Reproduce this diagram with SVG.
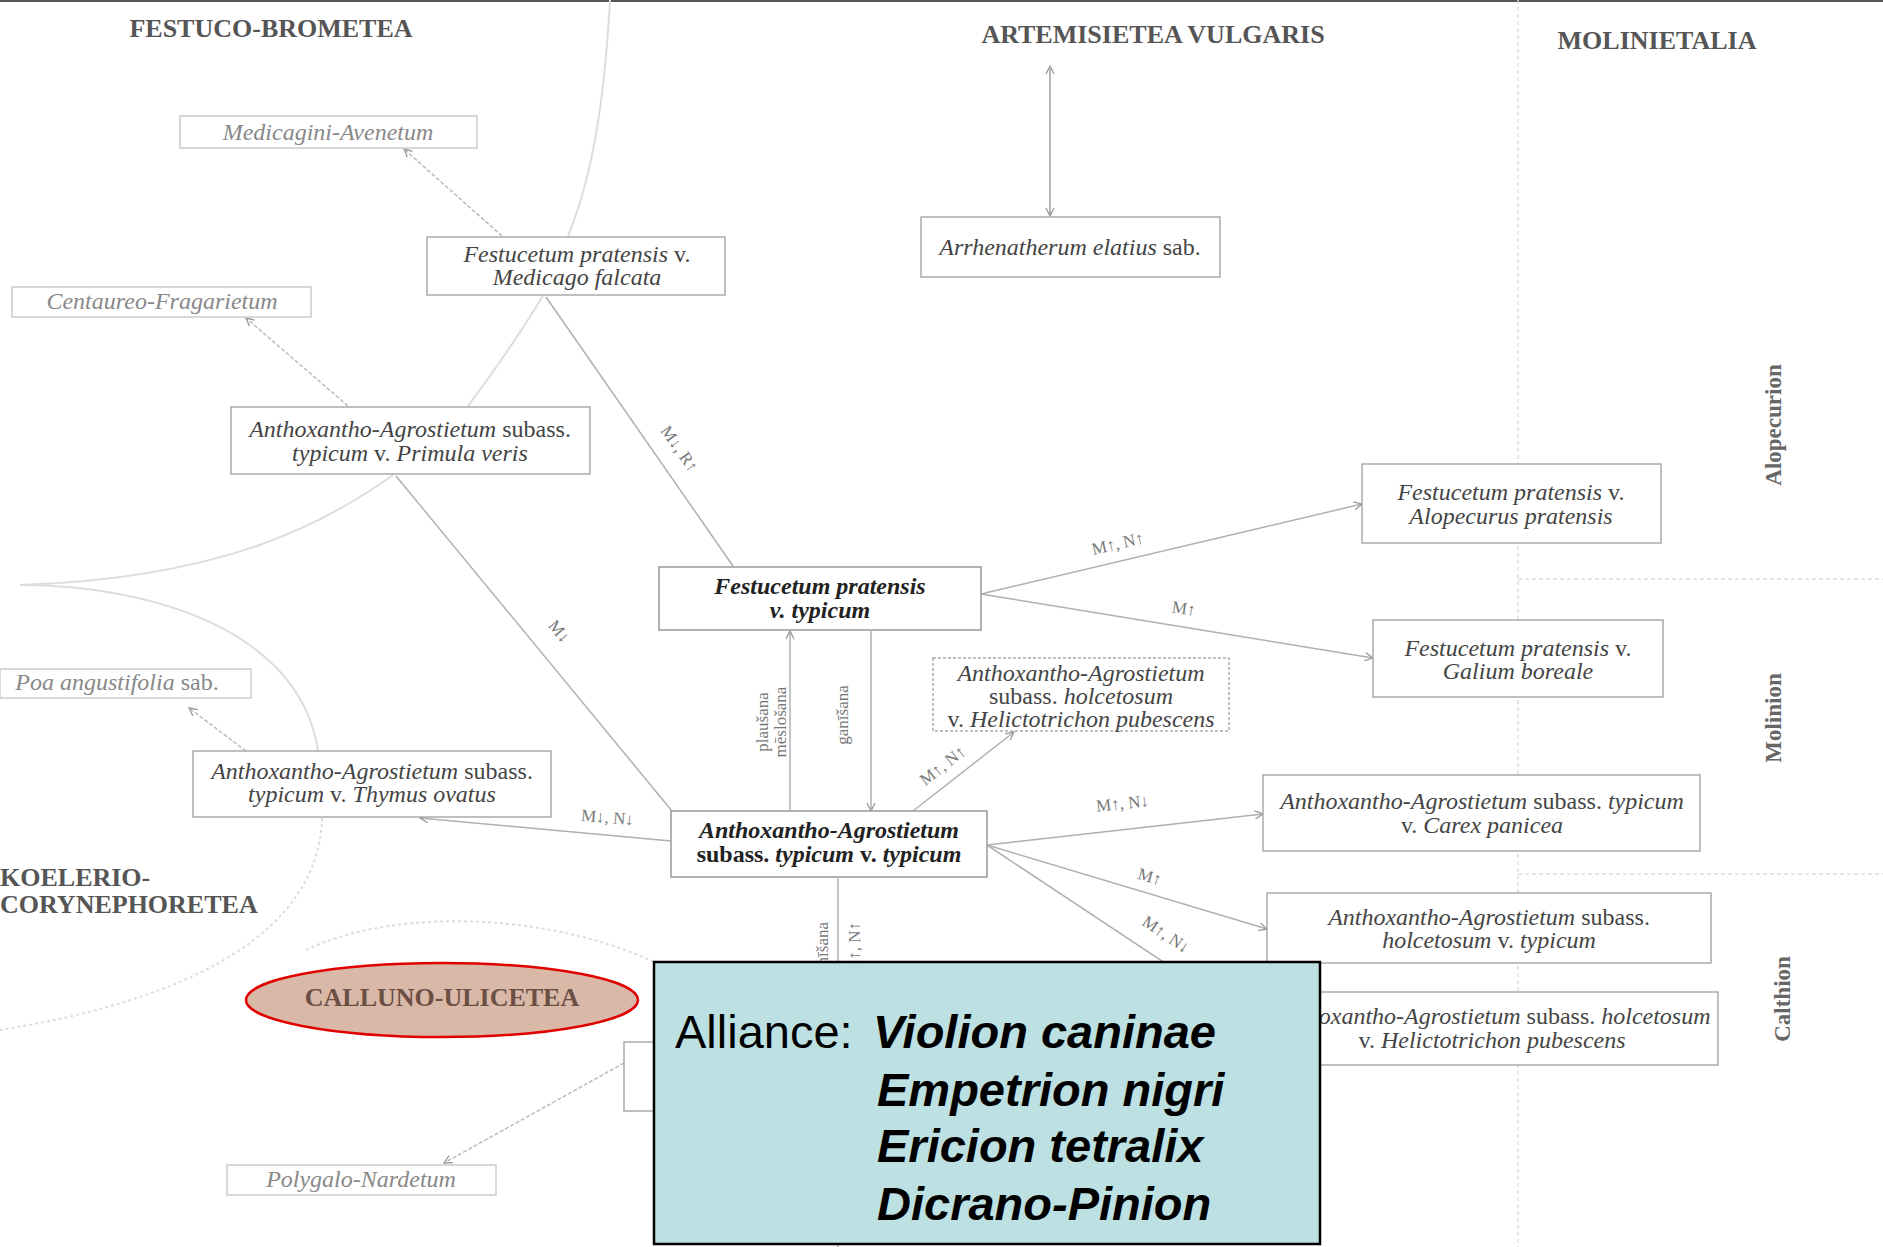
<svg xmlns="http://www.w3.org/2000/svg" width="1883" height="1247" viewBox="0 0 1883 1247">
<defs>
<marker id="arr" markerWidth="10" markerHeight="10" refX="9" refY="5" orient="auto" markerUnits="userSpaceOnUse">
<path d="M1,1 L9,5 L1,9" fill="none" stroke="#999" stroke-width="1.3"/>
</marker>
<style>
.bx{fill:#fff;stroke:#aaa;stroke-width:1.5}
.bxf{fill:#fff;stroke:#ccc;stroke-width:1.5}
.bxm{fill:#fff;stroke:#999;stroke-width:1.5}
.t{font-family:"Liberation Serif","Times New Roman",serif;font-size:24px;fill:#444;text-anchor:middle}
.tf{font-family:"Liberation Serif","Times New Roman",serif;font-size:24px;fill:#888;text-anchor:middle;font-style:italic}
.tb{font-family:"Liberation Serif","Times New Roman",serif;font-size:24px;fill:#222;text-anchor:middle;font-weight:bold}
.i{font-style:italic}
.n{font-style:normal}
.grp{font-family:"Liberation Serif","Times New Roman",serif;font-size:26px;font-weight:bold;fill:#555}
.reg{font-family:"Liberation Serif","Times New Roman",serif;font-size:23px;font-weight:bold;fill:#666;text-anchor:middle}
.ln{fill:none;stroke:#b0b0b0;stroke-width:1.5}
.lnd{fill:none;stroke:#bbb;stroke-width:1.5;stroke-dasharray:4 2}
.cur{fill:none;stroke:#ddd;stroke-width:2}
.curd{fill:none;stroke:#ddd;stroke-width:2;stroke-dasharray:3 3}
.sep{fill:none;stroke:#ddd;stroke-width:1.5;stroke-dasharray:4 3}
.lb{font-family:"Liberation Serif","Times New Roman",serif;font-size:17px;fill:#777;text-anchor:middle}
.al{font-family:"Liberation Sans",Arial,sans-serif;font-size:47px;fill:#000}
</style>
</defs>
<rect x="0" y="0" width="1883" height="1247" fill="#fff"/>
<rect x="0" y="0" width="1883" height="2" fill="#555"/>

<g id="boundaries">
<path class="cur" d="M610,0 C605,90 595,170 568,236"/>
<path class="cur" d="M543,296 Q510,350 468,406"/>
<path class="cur" d="M393,475 C330,520 230,578 20,585"/>
<path class="cur" d="M20,585 C150,585 300,630 318,751"/>
<path class="curd" d="M322,818 C320,900 250,990 0,1030"/>
<path class="curd" d="M306,950 C400,905 560,915 660,965"/>
<path class="sep" d="M1518,0 L1518,1247"/>
<path class="sep" d="M1518,579 L1883,579"/>
<path class="sep" d="M1518,874 L1883,874"/>
</g>

<g id="connectors">
<path class="lnd" d="M502,236 L404,149" marker-end="url(#arr)"/>
<path class="lnd" d="M348,406 L246,318" marker-end="url(#arr)"/>
<path class="ln" d="M1050,216 L1050,66" marker-end="url(#arr)"/>
<path class="ln" d="M1050,66 L1050,216" marker-end="url(#arr)"/>
<path class="ln" d="M546,297 L733,566"/>
<path class="ln" d="M396,476 L672,811"/>
<path class="ln" d="M981,594 L1362,504" marker-end="url(#arr)"/>
<path class="ln" d="M981,594 L1373,658" marker-end="url(#arr)"/>
<path class="ln" d="M790,811 L790,631" marker-end="url(#arr)"/>
<path class="ln" d="M871,631 L871,811" marker-end="url(#arr)"/>
<path class="ln" d="M913,811 L1014,732" marker-end="url(#arr)"/>
<path class="ln" d="M671,841 L420,818" marker-end="url(#arr)"/>
<path class="lnd" d="M246,751 L189,708" marker-end="url(#arr)"/>
<path class="ln" d="M987,845 L1263,814" marker-end="url(#arr)"/>
<path class="ln" d="M987,845 L1267,929" marker-end="url(#arr)"/>
<path class="ln" d="M987,845 L1266,1030" marker-end="url(#arr)"/>
<path class="ln" d="M838,878 L838,1247"/>
<path class="lnd" d="M624,1063 L444,1163" marker-end="url(#arr)"/>
<text class="lb" transform="translate(675,452) rotate(55)">M↓, R↑</text>
<text class="lb" transform="translate(555,635) rotate(50)">M↓</text>
<text class="lb" transform="translate(1119,549) rotate(-13)">M↑, N↑</text>
<text class="lb" transform="translate(1183,614) rotate(9)">M↑</text>
<text class="lb" transform="translate(946,770) rotate(-38)">M↑, N↑</text>
<text class="lb" transform="translate(607,823) rotate(5)">M↓, N↓</text>
<text class="lb" transform="translate(1123,809) rotate(-6)">M↑, N↓</text>
<text class="lb" transform="translate(1148,882) rotate(17)">M↑</text>
<text class="lb" transform="translate(1163,939) rotate(34)">M↑, N↓</text>
<text class="lb" transform="translate(768,722) rotate(-90)">plaušana</text>
<text class="lb" transform="translate(786,722) rotate(-90)">mēslošana</text>
<text class="lb" transform="translate(848,715) rotate(-90)">ganīšana</text>
<text class="lb" style="text-anchor:end" transform="translate(828,922) rotate(-90)">ganīšana</text>
<text class="lb" style="text-anchor:end" transform="translate(860,922) rotate(-90)">M↑, N↑</text>
</g>

<g id="titles">
<text class="grp" x="271" y="37" text-anchor="middle">FESTUCO-BROMETEA</text>
<text class="grp" x="1153" y="43" text-anchor="middle">ARTEMISIETEA VULGARIS</text>
<text class="grp" x="1657" y="49" text-anchor="middle">MOLINIETALIA</text>
<text class="grp" x="0" y="886">KOELERIO-</text>
<text class="grp" x="0" y="913">CORYNEPHORETEA</text>
<text class="reg" transform="translate(1781,425) rotate(-90)">Alopecurion</text>
<text class="reg" transform="translate(1781,718) rotate(-90)">Molinion</text>
<text class="reg" transform="translate(1790,999) rotate(-90)">Calthion</text>
</g>

<g id="n-medicagini">
<rect class="bxf" x="180" y="116" width="297" height="32"/>
<text class="tf" x="328" y="140">Medicagini-Avenetum</text>
</g>
<g id="n-fest-medicago">
<rect class="bx" x="427" y="237" width="298" height="58"/>
<text class="t" x="577" y="262"><tspan class="i">Festucetum pratensis</tspan> v.</text>
<text class="t" x="577" y="285"><tspan class="i">Medicago falcata</tspan></text>
</g>
<g id="n-centaureo">
<rect class="bxf" x="12" y="287" width="299" height="30"/>
<text class="tf" x="162" y="309">Centaureo-Fragarietum</text>
</g>
<g id="n-arrhenatherum">
<rect class="bx" x="921" y="217" width="299" height="60"/>
<text class="t" x="1070" y="255"><tspan class="i">Arrhenatherum elatius</tspan>  sab.</text>
</g>
<g id="n-primula">
<rect class="bx" x="231" y="407" width="359" height="67"/>
<text class="t" x="410" y="437"><tspan class="i">Anthoxantho-Agrostietum</tspan> subass.</text>
<text class="t" x="410" y="461"><tspan class="i">typicum</tspan> v. <tspan class="i">Primula veris</tspan></text>
</g>
<g id="n-alopecurus">
<rect class="bx" x="1362" y="464" width="299" height="79"/>
<text class="t" x="1511" y="500"><tspan class="i">Festucetum pratensis</tspan> v.</text>
<text class="t" x="1511" y="524"><tspan class="i">Alopecurus pratensis</tspan></text>
</g>
<g id="n-fest-typicum">
<rect class="bxm" x="659" y="567" width="322" height="63"/>
<text class="tb i" x="820" y="594">Festucetum pratensis</text>
<text class="tb i" x="820" y="618">v. typicum</text>
</g>
<g id="n-galium">
<rect class="bx" x="1373" y="620" width="290" height="77"/>
<text class="t" x="1518" y="656"><tspan class="i">Festucetum pratensis</tspan>  v.</text>
<text class="t" x="1518" y="679"><tspan class="i">Galium boreale</tspan></text>
</g>
<g id="n-holc-helicto-1">
<rect class="bx" x="933" y="658" width="296" height="73" style="stroke-dasharray:3 2"/>
<text class="t" x="1081" y="681"><tspan class="i">Anthoxantho-Agrostietum</tspan></text>
<text class="t" x="1081" y="704">subass. <tspan class="i">holcetosum</tspan></text>
<text class="t" x="1081" y="727">v. <tspan class="i">Helictotrichon pubescens</tspan></text>
</g>
<g id="n-poa">
<rect class="bxf" x="0" y="669" width="251" height="29"/>
<text class="tf" x="117" y="690">Poa angustifolia<tspan class="n"> sab.</tspan></text>
</g>
<g id="n-thymus">
<rect class="bx" x="193" y="751" width="358" height="66"/>
<text class="t" x="372" y="779"><tspan class="i">Anthoxantho-Agrostietum</tspan> subass.</text>
<text class="t" x="372" y="802"><tspan class="i">typicum</tspan> v. <tspan class="i">Thymus ovatus</tspan></text>
</g>
<g id="n-typicum-typicum">
<rect class="bxm" x="671" y="811" width="316" height="66"/>
<text class="tb" x="829" y="838"><tspan class="i">Anthoxantho-Agrostietum</tspan></text>
<text class="tb" x="829" y="862">subass. <tspan class="i">typicum</tspan> v. <tspan class="i">typicum</tspan></text>
</g>
<g id="n-carex">
<rect class="bx" x="1263" y="775" width="437" height="76"/>
<text class="t" x="1482" y="809"><tspan class="i">Anthoxantho-Agrostietum</tspan> subass. <tspan class="i">typicum</tspan></text>
<text class="t" x="1482" y="833">v. <tspan class="i">Carex panicea</tspan></text>
</g>
<g id="n-holc-typicum">
<rect class="bx" x="1267" y="893" width="444" height="70"/>
<text class="t" x="1489" y="925"><tspan class="i">Anthoxantho-Agrostietum</tspan> subass.</text>
<text class="t" x="1489" y="948"><tspan class="i">holcetosum</tspan> v. <tspan class="i">typicum</tspan></text>
</g>
<g id="n-holc-helicto-2">
<rect class="bx" x="1266" y="992" width="452" height="73"/>
<text class="t" x="1492" y="1024"><tspan class="i">Anthoxantho-Agrostietum</tspan> subass. <tspan class="i">holcetosum</tspan></text>
<text class="t" x="1492" y="1048">v. <tspan class="i">Helictotrichon pubescens</tspan></text>
</g>
<g id="n-hidden">
<rect class="bx" x="624" y="1042" width="300" height="69"/>
</g>
<g id="n-polygalo">
<rect class="bxf" x="227" y="1165" width="269" height="30"/>
<text class="tf" x="361" y="1187">Polygalo-Nardetum</text>
</g>
<g id="n-calluno">
<ellipse cx="442" cy="1000" rx="196" ry="37" fill="#d9b8a8" stroke="#e00000" stroke-width="2.5"/>
<text class="grp" x="442" y="1006" text-anchor="middle" style="fill:#6b4f45">CALLUNO-ULICETEA</text>
</g>
<g id="n-alliance">
<rect x="654" y="962" width="666" height="282" fill="#bde0e3" stroke="#000" stroke-width="2.5"/>
<text class="al" x="675" y="1048">Alliance: </text>
<text class="al" x="873" y="1048" font-weight="bold" font-style="italic">Violion caninae</text>
<text class="al" x="877" y="1106" font-weight="bold" font-style="italic">Empetrion nigri</text>
<text class="al" x="877" y="1162" font-weight="bold" font-style="italic">Ericion tetralix</text>
<text class="al" x="877" y="1220" font-weight="bold" font-style="italic">Dicrano-Pinion</text>
</g>
</svg>
